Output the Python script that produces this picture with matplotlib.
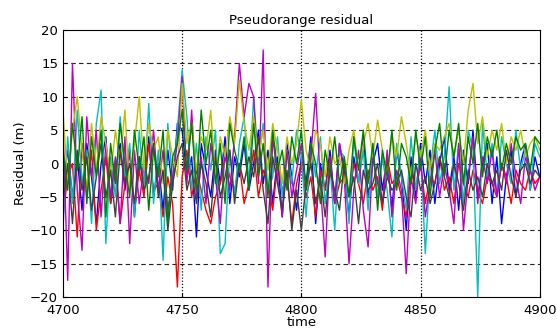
import numpy as np
from matplotlib import pyplot as plt

# time axis, one sample every 2 s
time = np.arange(4700, 4901, 2)

blue = [-3, 2, -5, 1, -7, 3, -2, -9, 0, 4,
        -6, -1, 3, -4, 2, -8, 1, -3, 4, -5,
        0, -7, 2, -4, 6, 5, -2, 1, -11, 3,
        -1, -5, 2, -3, 4, -6, 1, -2, 3, -4,
        0, 5, -3, 2, -6, 1, -8, 3, -2, -7,
        1, -3, 4, -9, 0, -4, 2, -6, 3, -1,
        -8, 1, -3, 4, -5, 0, 3, -4, 1, -7,
        2, -2, -10, 1, -5, 3, -3, 2, -6, 0,
        4, -4, 1, -7, 2, -3, 5, -5, 0, 3,
        -6, 1, -9, -2, 2, -5, 0, 3, -4, 1,
        -2]
green = [2, -4, 6, -1, 7, -6, 4, -2, 5, -8,
         3, -3, 6, 0, -5, 5, -1, 4, -7, 2,
         -2, 5, -9, 1, 3, 8, -1, 6, -4, 8,
         0, 5, -3, 3, -6, 6, 2, -1, 4, -4,
         6, -2, 3, -5, 5, -1, 2, -4, 4, 0,
         5, -4, 3, 0, -6, 2, -2, 4, -3, 1,
         -5, 4, -1, 5, -3, 3, -7, 2, -2, 5,
         -4, 3, 1, -3, 5, -1, 4, -5, 2, 6,
         -2, 5, 1, 6, -3, 4, 0, 6, -2, 4,
         1, 5, -1, 3, 0, 4, 2, 3, -1, 4,
         3]
red = [-8, -2, 0, -11, 3, -5, 2, -10, -4, 1,
       -6, 0, -9, -3, 2, -7, -1, -5, 3, -4,
       -3, -8, -2, -6, -18.5, -2, 2, -5, -1, -4,
       -7, -9, -5, -3, 1, -2, -4, 0, -6, -3,
       2, -5, -1, -3, -7, 0, -4, -2, -9, -3,
       0, -5, -2, -8, -1, -4, 1, -6, -3, -2,
       -5, 0, -3, -6, -1, -4, -2, -7, 1, -3,
       -2, -5, -8, -1, -4, 0, -6, -2, -3, 1,
       -4, -2, -6, 0, -3, -5, -1, -4, -6, -2,
       -3, -5, 0, -2, -6, -1, -3, -4, -1, -3,
       -2]
cyan = [-10, 4, -6, 8, -3, 2, -9, 6, 11, -12,
        1, -5, 7, -2, 3, -8, 5, -4, 9, -6,
        2, -14.5, 6, -3, 5, 14, 7, -4, 3, -7,
        4, -1, 5, -13.5, -12, 2, -5, 3, 7, -3,
        10, 0, 6, -4, -2, 4, -5, 2, -3, 5,
        1, -8, 3, -2, 4, -6, 0, -10, 2, 1,
        -9, 4, -3, 2, -7, 3, -5, 1, -4, -11,
        3, -2, -7, 4, -4, 2, -13.5, -1, 5, -3,
        1, 11.5, -4, 3, -6, 5, 2, -20, 6, -2,
        3, -5, 4, 0, -3, 5, -1, 2, -4, 3,
        1]
magenta = [6, -17.5, 15, -4, -13, 7, -2, 5, -8, 3,
           -5, 1, -9, 4, -12, 2, -6, 0, -3, 5,
           -4, 2, -7, -2, 3, 13, -3, 8, -5, 1,
           -6, 3, -2, -9, 2, -4, 4, 15, 7, 12,
           10, -3, 17, -18.5, 4, -2, -8, 2, -5, -1,
           3, -4, 1, 10.5, -3, -14, 1, -6, 3, -2,
           -15, -4, 2, -7, -12.5, 1, -3, -6, 2, -8,
           -1, -4, -16.5, -2, -6, 1, -8, -3, 2, -5,
           0, -4, -9, 3, -10, -2, 4, -6, 1, -3,
           2, -5, 0, -3, 3, -2, -6, 1, -1, -4,
           -2]
yellow = [8, -3, 5, 10, 2, -4, 6, -1, 7, 3,
          -2, 5, 0, 8, -4, 3, 10, -1, 6, 2,
          4, -3, 5, 1, -2, 12, 3, 6, -1, 4,
          2, 8, -2, 4, 1, 7, 3, 12.5, 6, 2,
          7, 1, 5, -1, 6, 2, -3, 4, 0, 3,
          9.5, 2, -1, 5, 3, -2, 4, 0, 1, -3,
          2, 5, -1, 3, 6, 1, 6.5, 2, -2, 4,
          1, 7, 3, -2, 4, 1, 5, -1, 3, 2,
          4, 6, 1, 5, 0, 8, 12, 3, 7, 1,
          5, 2, 6, 0, 4, 2, 5, 1, 3, 4,
          2]
gray = [-6, 0, -9, 2, -4, 1, -7, -2, 3, -5,
        -1, -8, 2, -3, 0, -6, 1, -4, -2, 3,
        -5, -1, -10, -3, 1, 3, -4, -1, -6, 0,
        -3, -8, 1, -5, -2, 2, -6, 0, -3, 1,
        -2, 4, -4, -9, 1, -3, -7, -1, -10, -4,
        -10, -3, 0, -6, -2, -8, -1, -4, -7, 0,
        -5, -2, -9, -1, -4, -3, 0, -6, -2, -4,
        -3, -1, -5, -8, 0, -4, -2, -6, -3, 1,
        -2, -5, 0, -3, -7, -1, -4, -2, -5, 0,
        -3, -1, -4, 2, -2, -5, -1, 0, -3, -1,
        -2]

series = [blue, red, cyan, magenta, yellow, gray, green]
colors = ["#0000ff", "#ff0000", "#00bfbf", "#bf00bf",
          "#bfbf00", "#404040", "#008000"]

fig = plt.figure(figsize=(5.57, 3.28), dpi=100)
ax = fig.add_axes([0.113, 0.0945, 0.856, 0.814])

for werte, farbe in zip(series, colors):
    ax.plot(time, werte, color=farbe, lw=1.0)

ax.set_xlim(4700, 4900)
ax.set_ylim(-20, 20)
ax.set_xticks(np.arange(4700, 4901, 50))
ax.set_yticks(np.arange(-20, 21, 5))
ax.tick_params(direction="in", labelsize=9.5, length=3)
ax.tick_params(axis="x", pad=5)

# Gitter: horizontal gestrichelt, vertikal gepunktet
for y in np.arange(-15, 16, 5):
    ax.axhline(y, color="#222222", lw=0.8, ls=(0, (4, 3)), zorder=0)
for x in [4750, 4800, 4850]:
    ax.axvline(x, color="#111111", lw=0.9, ls=(0, (1, 1.5)), zorder=0)

ax.set_title("Pseudorange residual", fontsize=9.5, pad=4)
ax.set_xlabel("time", fontsize=9.5, labelpad=-1)
ax.set_ylabel("Residual (m)", fontsize=9.5, labelpad=2)

fig.savefig("out.png")
